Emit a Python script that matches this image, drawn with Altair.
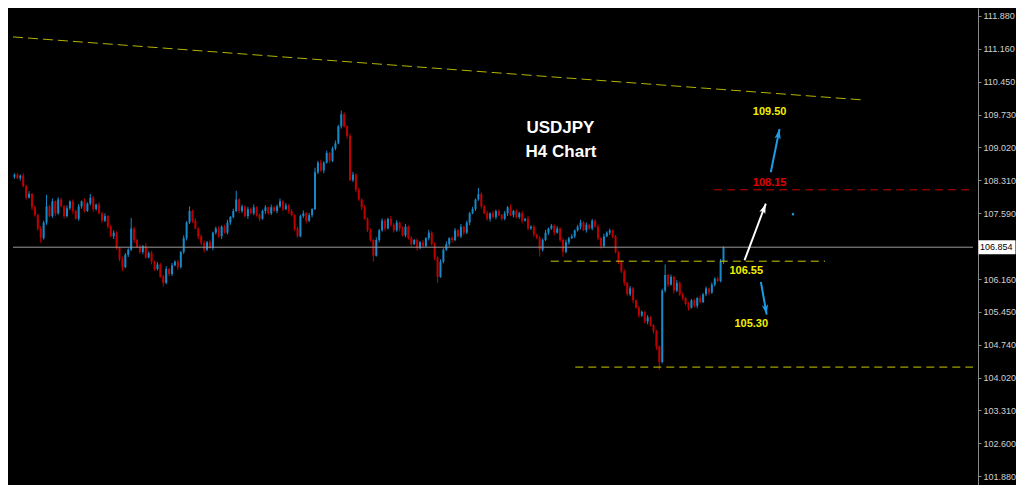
import altair as alt
import pandas as pd

# ---------------- data ----------------
first_open = 108.38
close = [
    108.43, 108.35, 108.41, 108.18, 107.93, 108.01, 107.72, 107.55, 107.26, 107.05,
    107.39, 107.74, 107.53, 107.85, 107.59, 107.89, 107.74, 107.53, 107.70, 107.85,
    107.64, 107.47, 107.74, 107.85, 107.64, 107.80, 107.93, 107.68, 107.78, 107.59,
    107.43, 107.53, 107.30, 107.09, 107.17, 106.84, 106.59, 106.42, 106.69, 106.80,
    107.26, 107.01, 106.86, 106.75, 106.88, 106.63, 106.73, 106.54, 106.38, 106.48,
    106.21, 106.08, 106.38, 106.27, 106.46, 106.54, 106.42, 106.75, 107.05, 107.39,
    107.64, 107.43, 107.26, 107.09, 106.94, 106.80, 106.96, 106.84, 107.17, 107.26,
    107.09, 107.30, 107.17, 107.39, 107.51, 107.64, 107.89, 107.64, 107.74, 107.53,
    107.68, 107.59, 107.72, 107.55, 107.47, 107.64, 107.72, 107.59, 107.72, 107.64,
    107.74, 107.85, 107.68, 107.76, 107.64, 107.55, 107.26, 107.09, 107.53, 107.59,
    107.43, 107.55, 107.68, 108.48, 108.69, 108.52, 108.69, 108.90, 108.73, 109.00,
    109.11, 109.48, 109.74, 109.48, 109.27, 108.31, 108.43, 108.10, 107.89, 107.72,
    107.47, 107.22, 107.01, 106.67, 107.01, 107.22, 107.43, 107.26, 107.47, 107.34,
    107.22, 107.39, 107.26, 107.11, 107.30, 107.05, 106.92, 107.01, 106.84, 106.96,
    106.88, 107.05, 107.17, 106.92, 106.63, 106.21, 106.54, 106.80, 106.92, 107.05,
    107.01, 107.22, 107.09, 107.30, 107.17, 107.39, 107.59, 107.68, 107.89, 108.01,
    107.74, 107.59, 107.47, 107.59, 107.51, 107.64, 107.55, 107.47, 107.59, 107.72,
    107.55, 107.64, 107.51, 107.59, 107.43, 107.47, 107.26, 107.30, 107.13, 107.05,
    106.80, 107.01, 107.17, 107.26, 107.32, 107.17, 107.26, 107.01, 106.75, 106.96,
    107.05, 107.09, 107.22, 107.30, 107.39, 107.22, 107.34, 107.26, 107.43, 107.30,
    107.05, 106.88, 107.09, 107.17, 107.22, 107.09, 106.75, 106.54, 106.33, 106.08,
    105.83, 105.96, 105.70, 105.54, 105.37, 105.45, 105.24, 105.33, 105.16, 105.03,
    104.70, 104.36, 105.91, 106.25, 106.04, 106.21, 105.91, 106.08, 105.83, 105.75,
    105.62, 105.54, 105.70, 105.58, 105.75, 105.66, 105.83, 105.96, 105.87, 106.04,
    106.17, 106.12, 106.54, 106.854,
]
# upper / lower shadow lengths in pips (0.01)
up_wick = [
    3, 4, 2, 5, 3, 6, 2, 4, 3, 5,
    4, 25, 3, 6, 2, 5, 4, 3, 6, 2,
    4, 3, 5, 2, 6, 3, 8, 4, 2, 5,
    3, 6, 2, 4, 5, 3, 2, 6, 4, 3,
    23, 4, 3, 5, 2, 6, 3, 4, 2, 5,
    3, 4, 6, 2, 5, 3, 4, 2, 6, 3,
    10, 3, 5, 2, 4, 6, 3, 5, 2, 4,
    5, 3, 4, 6, 2, 5, 19, 3, 4, 2,
    5, 3, 6, 2, 4, 3, 5, 2, 6, 3,
    4, 6, 2, 5, 3, 4, 2, 5, 3, 6,
    3, 5, 2, 10, 4, 6, 3, 5, 2, 4,
    6, 3, 8, 4, 2, 5, 6, 3, 4, 2,
    5, 3, 4, 2, 6, 3, 5, 4, 2, 6,
    3, 5, 2, 4, 6, 3, 5, 2, 4, 3,
    5, 2, 6, 3, 4, 2, 5, 3, 6, 2,
    4, 5, 3, 6, 2, 4, 3, 5, 2, 13,
    4, 3, 5, 2, 6, 3, 4, 2, 5, 3,
    6, 2, 4, 3, 5, 2, 6, 3, 4, 2,
    5, 3, 6, 2, 4, 3, 5, 2, 4, 6,
    3, 5, 2, 4, 6, 3, 5, 2, 4, 3,
    5, 2, 6, 3, 4, 2, 3, 2, 3, 4,
    2, 5, 3, 2, 4, 3, 2, 5, 3, 2,
    3, 2, 4, 23, 3, 5, 2, 6, 3, 4,
    2, 5, 3, 4, 2, 6, 3, 4, 2, 5,
    3, 4, 6, 2,
]
dn_wick = [
    4, 2, 5, 3, 4, 2, 6, 3, 5, 10,
    3, 5, 2, 4, 6, 3, 2, 5, 3, 4,
    6, 2, 4, 5, 3, 2, 4, 6, 3, 2,
    5, 3, 4, 2, 6, 3, 4, 8, 2, 5,
    3, 6, 2, 4, 5, 3, 2, 6, 4, 3,
    2, 8, 3, 5, 4, 2, 6, 3, 4, 5,
    3, 5, 2, 6, 4, 6, 3, 2, 5, 4,
    3, 6, 2, 4, 5, 3, 2, 5, 4, 3,
    6, 2, 4, 3, 5, 2, 6, 3, 4, 2,
    5, 3, 4, 2, 6, 3, 5, 3, 2, 4,
    6, 3, 5, 2, 4, 3, 6, 2, 5, 3,
    4, 2, 5, 3, 6, 2, 4, 5, 3, 6,
    2, 4, 3, 13, 2, 5, 3, 6, 2, 4,
    5, 3, 6, 2, 4, 3, 5, 2, 6, 3,
    4, 2, 5, 3, 6, 13, 2, 4, 3, 5,
    6, 3, 2, 4, 5, 3, 6, 2, 4, 3,
    5, 2, 4, 6, 3, 5, 2, 4, 3, 6,
    2, 5, 3, 4, 6, 2, 4, 3, 5, 2,
    15, 4, 2, 5, 3, 6, 2, 4, 10, 3,
    5, 2, 4, 3, 6, 2, 5, 3, 4, 2,
    4, 6, 3, 2, 5, 4, 3, 5, 4, 6,
    3, 4, 6, 2, 5, 3, 4, 6, 3, 5,
    8, 17, 3, 4, 5, 2, 6, 3, 4, 5,
    3, 6, 2, 4, 5, 3, 2, 4, 6, 3,
    4, 2, 3, 5,
]

bid_price = 106.854
tick_values = [111.88, 111.16, 110.45, 109.73, 109.02, 108.31, 107.59,
               106.16, 105.45, 104.74, 104.02, 103.31, 102.60, 101.88]

trend_x = [0, 291.7]
trend_p = [111.42, 110.05]

level_p = [106.55, 104.25, 108.10]
level_x0 = [184.3, 192.7, 240.3]
level_x1 = [278.3, 329.0, 329.0]
level_color = ["#c8c800", "#c8c800", "#c80000"]

note_text = ["109.50", "108.15", "106.55", "105.30"]
note_x = [259.3, 259.3, 251.3, 253.0]
note_p = [109.785, 108.25, 106.34, 105.18]
note_color = ["#f0f000", "#e00000", "#f0f000", "#f0f000"]

title_text = ["USDJPY", "H4 Chart"]
title_x = [187.6, 187.8]
title_p = [109.44, 108.92]

arrow_x0 = [259.7, 250.7, 256.3]
arrow_p0 = [108.48, 106.57, 106.10]
arrow_x1 = [262.7, 258.0, 258.3]
arrow_p1 = [109.42, 107.80, 105.39]
arrow_color = ["#1e9be6", "#ffffff", "#1e9be6"]
arrow_angle = [11.5, 20.7, 169.8]

dot_x = [267.3]
dot_p = [107.57]

# ---------------- build tables ----------------
n = len(close)
opens = [first_open] + close[:-1]
candles = pd.DataFrame({
    "bar": [i + 0.5 for i in range(n)],
    "open": opens,
    "close": close,
})
candles["high"] = [max(o, c) + u / 100 for o, c, u in zip(opens, close, up_wick)]
candles["low"] = [min(o, c) - d / 100 for o, c, d in zip(opens, close, dn_wick)]
candles["dir"] = ["up" if c >= o else "down" for o, c in zip(opens, close)]

W, H = 970, 477
xs = alt.Scale(domain=[0, 329], nice=False, zero=False)
ys = alt.Scale(domain=[101.69, 112.048], nice=False, zero=False)
yax = alt.Axis(orient="right", values=tick_values, format=".3f", grid=False, title=None,
               domainColor="#8a8a8a", tickColor="#8a8a8a", tickSize=3,
               labelColor="#d0d0d0", labelFont="Liberation Sans", labelFontSize=9,
               labelPadding=2)
col = alt.Color("dir:N", scale=alt.Scale(domain=["up", "down"], range=["#1789c9", "#c00000"]), legend=None)


def Y(field):
    return alt.Y(field, scale=ys, axis=yax, title=None)


def X(field):
    return alt.X(field, scale=xs, axis=None, title=None)


wicks = alt.Chart(candles).mark_rule(strokeWidth=1).encode(
    x=X("bar:Q"), y=Y("low:Q"), y2="high:Q", color=col,
)
bodies = alt.Chart(candles).mark_bar(size=2).encode(
    x=X("bar:Q"), y=Y("open:Q"), y2="close:Q", color=col,
)

bid_df = pd.DataFrame({"x0": [0], "x1": [329], "p": [bid_price], "t": [f"{bid_price:.3f}"]})
bid_line = alt.Chart(bid_df).mark_rule(color="#9a9a9a", strokeWidth=1).encode(
    x=X("x0:Q"), x2="x1:Q", y=Y("p:Q"),
)
bid_box = alt.Chart(bid_df).mark_point(
    shape="M-1,-0.38L1,-0.38L1,0.38L-1,0.38Z", size=1369, filled=True, fill="white", opacity=1, strokeWidth=0
).encode(x=alt.value(W + 19), y=Y("p:Q"))
bid_text = alt.Chart(bid_df).mark_text(
    align="left", baseline="middle", font="Liberation Sans", fontSize=9, color="black"
).encode(x=alt.value(W + 2), y=Y("p:Q"), text="t:N")

trend_df = pd.DataFrame({"x": trend_x, "p": trend_p})
trend = alt.Chart(trend_df).mark_line(color="#b4b400", strokeWidth=1, strokeDash=[10, 5]).encode(
    x=X("x:Q"), y=Y("p:Q")
)

lev_df = pd.DataFrame({"x0": level_x0, "x1": level_x1, "p": level_p, "c": level_color})
levels = alt.Chart(lev_df).mark_rule(strokeWidth=1, strokeDash=[8, 5]).encode(
    x=X("x0:Q"), x2="x1:Q", y=Y("p:Q"),
    color=alt.Color("c:N", scale=None),
)

arr_df = pd.DataFrame({"x0": arrow_x0, "p0": arrow_p0, "x1": arrow_x1, "p1": arrow_p1,
                       "c": arrow_color, "a": arrow_angle})
arrow_lines = alt.Chart(arr_df).mark_rule(strokeWidth=2).encode(
    x=X("x0:Q"), x2="x1:Q", y=Y("p0:Q"), y2="p1:Q",
    color=alt.Color("c:N", scale=None),
)
arrow_heads = alt.Chart(arr_df).mark_point(
    shape="M0,0L0.6,1.9L0,1.45L-0.6,1.9Z", size=110, filled=True, opacity=1, strokeWidth=0
).encode(
    x=X("x1:Q"), y=Y("p1:Q"),
    color=alt.Color("c:N", scale=None),
    angle=alt.Angle("a:Q", scale=None),
)

dot_df = pd.DataFrame({"x": dot_x, "p": dot_p})
dot = alt.Chart(dot_df).mark_square(size=5, color="#1e9be6", opacity=1).encode(
    x=X("x:Q"), y=Y("p:Q")
)

note_df = pd.DataFrame({"x": note_x, "p": note_p, "t": note_text, "c": note_color})
notes = alt.Chart(note_df).mark_text(
    font="Liberation Sans", fontWeight="bold", fontSize=11, baseline="middle", align="center"
).encode(
    x=X("x:Q"), y=Y("p:Q"), text="t:N", color=alt.Color("c:N", scale=None),
)

title_df = pd.DataFrame({"x": title_x, "p": title_p, "t": title_text})
titles = alt.Chart(title_df).mark_text(
    font="Liberation Sans", fontWeight="bold", fontSize=17, color="white",
    baseline="middle", align="center"
).encode(x=X("x:Q"), y=Y("p:Q"), text="t:N")

chart = alt.layer(
    wicks, bodies, bid_line, trend, levels, arrow_lines, arrow_heads, dot,
    notes, titles, bid_box, bid_text
).properties(
    width=W, height=H,
    padding={"left": 0, "top": 0, "right": 38, "bottom": 0},
    autosize=alt.AutoSizeParams(type="none"),
    background="black",
).configure_view(strokeWidth=0)

chart.save("out.html", embed_options={"renderer": "svg", "actions": False})
